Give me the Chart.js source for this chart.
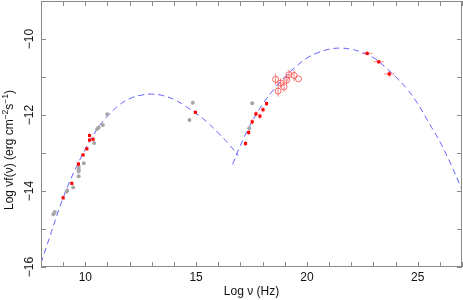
<!DOCTYPE html>
<html>
<head>
<meta charset="utf-8">
<script src="https://cdn.jsdelivr.net/npm/chart.js@4"></script>
<style>
  html, body { margin: 0; padding: 0; background: #fff; }
  #wrap { width: 463px; height: 300px; }
</style>
</head>
<body>
<div id="wrap"><canvas id="sed"></canvas></div>
<script>
// synchrotron model curve
const syncX = [8.0, 8.4, 8.8, 9.2, 9.6, 10.0, 10.5, 11.0, 11.5, 12.0, 12.5, 13.0, 13.5, 14.0, 14.5, 15.0, 15.5, 16.0, 16.5, 16.9];
const syncY = [-15.9, -15.2, -14.5, -13.88, -13.36, -12.9, -12.4, -12.03, -11.75, -11.57, -11.48, -11.45, -11.49, -11.59, -11.76, -11.96, -12.19, -12.47, -12.78, -13.07];
// inverse compton model curve
const icX = [16.65, 17.0, 17.5, 18.0, 18.5, 19.0, 19.5, 20.0, 20.5, 21.0, 21.5, 22.0, 22.5, 23.0, 23.5, 24.0, 24.5, 25.0, 25.5, 26.0, 26.5, 27.0];
const icY = [-13.3, -12.8, -12.2, -11.72, -11.33, -11.0, -10.73, -10.5, -10.36, -10.27, -10.24, -10.27, -10.35, -10.49, -10.72, -10.99, -11.3, -11.7, -12.2, -12.7, -13.3, -13.97];

// archival points (grey)
const greyX = [8.56, 8.62, 9.15, 9.19, 9.45, 9.70, 9.70, 9.70, 9.70, 9.93, 10.40, 10.53, 10.60, 10.79, 10.99, 14.85, 14.70, 17.53, 17.40];
const greyY = [-14.61, -14.55, -14.02, -13.99, -13.91, -13.36, -13.43, -13.49, -13.61, -13.27, -12.74, -12.37, -12.33, -12.26, -11.98, -11.68, -12.13, -11.69, -12.35];

// simultaneous points (red, filled)
const redX = [9.0, 9.39, 9.69, 9.90, 10.07, 10.19, 10.19, 10.35, 14.97, 17.23, 17.37, 17.53, 17.70, 17.88, 18.02, 18.18];
const redY = [-14.18, -13.80, -13.29, -13.05, -12.89, -12.54, -12.66, -12.64, -11.93, -12.75, -12.46, -12.18, -11.97, -12.03, -11.86, -11.70];
const redErr = [0.04, 0.04, 0.05, 0.04, 0.04, 0.05, 0.05, 0.05, 0.04, 0.07, 0.07, 0.07, 0.07, 0.07, 0.07, 0.06];

// hard x-ray points (open circles)
const hxX = [18.59, 18.70, 18.81, 18.97, 19.09, 19.19, 19.42, 19.62];
const hxY = [-11.06, -11.37, -11.16, -11.26, -11.08, -10.94, -10.96, -11.05];
const hxErr = [0.15, 0.15, 0.12, 0.12, 0.12, 0.12, 0.15, 0.0];
const hxXErr = [0.0, 0.0, 0.08, 0.0, 0.08, 0.08, 0.0, 0.0];

// gamma-ray points
const gamX = [22.72, 23.24, 23.72];
const gamY = [-10.38, -10.60, -10.92];
const gamXErr = [0.23, 0.23, 0.23];
const gamYErr = [0.05, 0.05, 0.08];

const xTicks = [10, 15, 20, 25];
const yTicks = [-16, -14, -12, -10];

// y title pieces, the flagged ones are superscripts
const yTitle = [['Log \u03bdf(\u03bd) (erg cm', 0], ['\u22122', 1], ['s', 0], ['\u22121', 1], [')', 0]];

const pts = (xs, ys) => xs.map((x, i) => ({ x: x, y: ys[i] }));

const FONT = '"Liberation Sans", Arial, Helvetica, sans-serif';
const AXIS = '#8a8a8a';
const minus = v => (v < 0 ? '\u2212' : '') + Math.abs(v);

// error bars, box, inward tick marks, rotated y labels and title
const sedDecor = {
  id: 'sedDecor',
  beforeDatasetsDraw(chart) {
    const { ctx } = chart;
    const xs = chart.scales.x, ys = chart.scales.y;
    ctx.save();
    ctx.lineWidth = 1;
    ctx.strokeStyle = 'rgba(255,90,90,0.75)';
    const bar = (x, y, ex, ey) => {
      const px = xs.getPixelForValue(x), py = ys.getPixelForValue(y);
      ctx.beginPath();
      if (ey) {
        ctx.moveTo(px, ys.getPixelForValue(y - ey));
        ctx.lineTo(px, ys.getPixelForValue(y + ey));
      }
      if (ex) {
        ctx.moveTo(xs.getPixelForValue(x - ex), py);
        ctx.lineTo(xs.getPixelForValue(x + ex), py);
      }
      ctx.stroke();
    };
    redX.forEach((x, i) => bar(x, redY[i], 0, redErr[i]));
    hxX.forEach((x, i) => bar(x, hxY[i], hxXErr[i], hxErr[i]));
    gamX.forEach((x, i) => bar(x, gamY[i], gamXErr[i], gamYErr[i]));
    ctx.restore();
  },
  afterDraw(chart) {
    const { ctx, chartArea: a } = chart;
    const xs = chart.scales.x, ys = chart.scales.y;
    ctx.save();
    ctx.strokeStyle = AXIS;
    ctx.lineWidth = 1;
    ctx.strokeRect(Math.round(a.left) + 0.5, Math.round(a.top) + 0.5,
      Math.round(a.right - a.left) - 1, Math.round(a.bottom - a.top) - 1);
    ctx.beginPath();
    for (let v = Math.ceil(xs.min); v <= xs.max; v++) {
      const p = Math.round(xs.getPixelForValue(v)) + 0.5;
      ctx.moveTo(p, a.bottom); ctx.lineTo(p, a.bottom - 5);
      ctx.moveTo(p, a.top); ctx.lineTo(p, a.top + 5);
    }
    for (let v = Math.ceil(ys.min); v <= ys.max; v++) {
      const p = Math.round(ys.getPixelForValue(v)) + 0.5;
      ctx.moveTo(a.left, p); ctx.lineTo(a.left + 5, p);
      ctx.moveTo(a.right, p); ctx.lineTo(a.right - 5, p);
    }
    ctx.stroke();
    // y tick labels, reading bottom to top
    ctx.fillStyle = '#111';
    ctx.font = '12px ' + FONT;
    ctx.textAlign = 'center';
    ctx.textBaseline = 'middle';
    yTicks.forEach(v => {
      ctx.save();
      ctx.translate(a.left - 11, ys.getPixelForValue(v));
      ctx.rotate(-Math.PI / 2);
      ctx.fillText(minus(v), 0, 0);
      ctx.restore();
    });
    // y title, centred on the figure height
    const big = '12px ' + FONT, small = '8.5px ' + FONT;
    let w = 0;
    yTitle.forEach(([t, s]) => { ctx.font = s ? small : big; w += ctx.measureText(t).width; });
    ctx.save();
    ctx.translate(10, chart.height / 2);
    ctx.rotate(-Math.PI / 2);
    ctx.textAlign = 'left';
    let cx = -w / 2;
    yTitle.forEach(([t, s]) => {
      ctx.font = s ? small : big;
      ctx.fillText(t, cx, s ? -4 : 0);
      cx += ctx.measureText(t).width;
    });
    ctx.restore();
    ctx.restore();
  }
};

new Chart(document.getElementById('sed'), {
  type: 'scatter',
  data: {
    datasets: [
      {
        label: 'simultaneous',
        data: pts(redX, redY),
        backgroundColor: '#ff0000',
        borderColor: '#ff0000',
        pointRadius: 2.2,
        pointStyle: 'rect',
        borderWidth: 0
      },
      {
        label: 'gamma',
        data: pts(gamX, gamY),
        backgroundColor: '#ff0000',
        borderColor: '#ff0000',
        pointRadius: 2.2,
        pointStyle: 'rect',
        borderWidth: 0
      },
      {
        label: 'hard x-ray',
        data: pts(hxX, hxY),
        backgroundColor: 'rgba(0,0,0,0)',
        borderColor: 'rgba(255,80,80,0.85)',
        pointRadius: 3,
        borderWidth: 1
      },
      {
        label: 'archival',
        data: pts(greyX, greyY),
        backgroundColor: '#a6a6a6',
        borderColor: '#a6a6a6',
        pointRadius: 2,
        borderWidth: 0
      },
      {
        label: 'synchrotron',
        data: pts(syncX, syncY),
        showLine: true,
        tension: 0.4,
        borderColor: 'rgba(70,70,255,0.85)',
        borderWidth: 1,
        borderDash: [6, 4],
        pointRadius: 0
      },
      {
        label: 'inverse compton',
        data: pts(icX, icY),
        showLine: true,
        tension: 0.4,
        borderColor: 'rgba(70,70,255,0.85)',
        borderWidth: 1,
        borderDash: [6, 4],
        pointRadius: 0
      }
    ]
  },
  options: {
    responsive: true,
    maintainAspectRatio: false,
    animation: false,
    layout: { autoPadding: false, padding: { top: 1, right: 1, left: 0, bottom: 0 } },
    plugins: { legend: { display: false }, tooltip: { enabled: false } },
    scales: {
      x: {
        type: 'linear',
        min: 8, max: 27,
        afterBuildTicks: s => { s.ticks = xTicks.map(v => ({ value: v })); },
        afterFit: s => { s.height = 33; s.paddingLeft = 0; s.paddingRight = 0; },
        grid: { display: false, drawTicks: false },
        border: { display: false },
        ticks: { color: '#111', font: { family: FONT, size: 12 }, padding: 3, maxRotation: 0 },
        title: { display: true, text: 'Log \u03bd (Hz)', color: '#111', font: { family: FONT, size: 12 }, padding: { top: 0, bottom: 1 } }
      },
      y: {
        type: 'linear',
        min: -16, max: -9,
        afterBuildTicks: s => { s.ticks = yTicks.map(v => ({ value: v })); },
        afterFit: s => { s.width = 41; s.paddingTop = 0; s.paddingBottom = 0; },
        grid: { display: false, drawTicks: false },
        border: { display: false },
        ticks: { display: false },
        title: { display: false }
      }
    }
  },
  plugins: [sedDecor]
});
</script>
</body>
</html>
